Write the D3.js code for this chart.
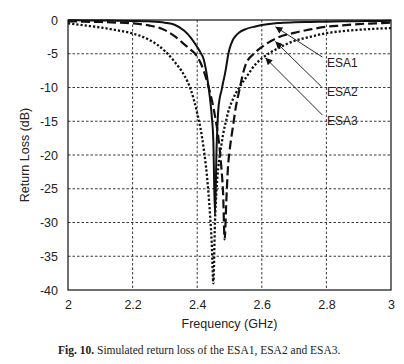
<!DOCTYPE html>
<html><head><meta charset="utf-8">
<script src="https://cdn.jsdelivr.net/npm/d3@7"></script>
<style>
html,body{margin:0;padding:0;background:#fff;}
svg{display:block;}
</style></head>
<body>
<script>
// ---- data ----
const freq = [2.00,2.05,2.10,2.15,2.20,2.25,2.30,2.33,2.36,2.38,2.40,2.41,2.42,2.43,2.44,2.445,2.45,2.455,2.46,2.465,2.47,2.475,2.48,2.485,2.49,2.495,2.50,2.51,2.52,2.53,2.55,2.58,2.60,2.65,2.70,2.75,2.80,2.85,2.90,2.95,3.00];
const esa1 = [-0.05,-0.06,-0.08,-0.1,-0.13,-0.2,-0.4,-0.7,-1.6,-2.6,-4.0,-4.8,-5.8,-8.2,-11.8,-14.2,-18,-29,-19,-13.5,-11.5,-10.5,-9.3,-8.2,-6.9,-5.4,-4.3,-3.0,-2.3,-1.85,-1.35,-0.95,-0.75,-0.45,-0.35,-0.3,-0.25,-0.2,-0.17,-0.14,-0.12];
const esa2 = [-0.2,-0.25,-0.3,-0.38,-0.5,-0.8,-1.5,-2.4,-3.6,-4.4,-5.4,-6.3,-7.5,-9.0,-10.8,-11.8,-12.9,-14.2,-15.6,-17.2,-19.3,-22,-25.5,-32.5,-27,-22,-19.5,-16,-12.8,-10.5,-6.6,-4.8,-4.0,-2.6,-1.9,-1.4,-1.0,-0.8,-0.6,-0.5,-0.4];
const esa3 = [-0.5,-0.8,-1.1,-1.5,-2.0,-2.9,-4.6,-6.2,-8.2,-10.3,-13.8,-16,-19,-23,-29,-33,-39,-30,-25,-22,-20,-18.5,-17,-15.8,-14.8,-13.8,-13,-11.8,-10.8,-10.0,-8.6,-6.6,-5.7,-4.2,-3.1,-2.5,-1.95,-1.65,-1.45,-1.3,-1.2];
const xTicks = [2, 2.2, 2.4, 2.6, 2.8, 3];
const yTicks = [0,-5,-10,-15,-20,-25,-30,-35,-40];
const seriesNames = ["ESA1","ESA2","ESA3"];
// annotation: label anchor (freq,dB) and arrow tip (freq,dB)
const labelAt = [[2.802,-6.9],[2.802,-11.3],[2.802,-15.5]];
const arrowFrom = [[2.788,-5.5],[2.785,-9.9],[2.788,-14.1]];
const arrowTip = [[2.642,-1.0],[2.642,-3.2],[2.611,-5.6]];

// ---- drawing ----
const W=404,H=364;
const m={left:68,right:391,top:20,bottom:290};
const svg=d3.select("body").append("svg").attr("width",W).attr("height",H);
const x=d3.scaleLinear().domain([2,3]).range([m.left,m.right]);
const y=d3.scaleLinear().domain([-40,0]).range([m.bottom,m.top]);
const font="'Liberation Sans', Arial, sans-serif";

svg.append("defs").append("marker").attr("id","ah").attr("viewBox","0 0 10 10")
  .attr("refX",10).attr("refY",5).attr("markerWidth",9).attr("markerHeight",7)
  .attr("markerUnits","userSpaceOnUse").attr("orient","auto")
  .append("path").attr("d","M0,0L10,5L0,10z").attr("fill","#111");

// grid
const grid=svg.append("g");
grid.selectAll("line.v").data(xTicks.slice(1,-1)).join("line")
  .attr("x1",d=>x(d)).attr("x2",d=>x(d)).attr("y1",m.top).attr("y2",m.bottom)
  .attr("stroke","#222").attr("stroke-width",0.9).attr("stroke-dasharray","2.5,2");
grid.selectAll("line.h").data(yTicks.slice(1,-1)).join("line")
  .attr("y1",d=>y(d)).attr("y2",d=>y(d)).attr("x1",m.left).attr("x2",m.right)
  .attr("stroke","#222").attr("stroke-width",0.9).attr("stroke-dasharray","2.5,2");

// axes
const xa=svg.append("g").attr("transform",`translate(0,${m.bottom})`)
  .call(d3.axisBottom(x).tickValues(xTicks).tickSize(0).tickPadding(10).tickFormat(d3.format("")));
const ya=svg.append("g").attr("transform",`translate(${m.left},0)`)
  .call(d3.axisLeft(y).tickValues(yTicks).tickSize(0).tickPadding(10).tickFormat(d=>d===0?"0":String(d)));
[xa,ya].forEach(a=>{a.select(".domain").remove();a.selectAll("text").attr("font-family",font).attr("font-size",12.5).attr("fill","#222");});
svg.append("rect").attr("x",m.left).attr("y",m.top).attr("width",m.right-m.left).attr("height",m.bottom-m.top)
  .attr("fill","none").attr("stroke","#111").attr("stroke-width",1.2);

// curves
const styles=[{dash:null,w:2},{dash:"9,4",w:2.2},{dash:"2.2,2",w:2.3}];
const data=[esa1,esa2,esa3];
const line=d3.line().x((d,i)=>x(freq[i])).y(d=>y(d)).curve(d3.curveMonotoneX);
svg.append("clipPath").attr("id","cp").append("rect")
  .attr("x",m.left).attr("y",m.top-2).attr("width",m.right-m.left).attr("height",m.bottom-m.top+2);
svg.append("g").attr("clip-path","url(#cp)").selectAll("path").data(data).join("path")
  .attr("d",d=>line(d)).attr("fill","none").attr("stroke","#111")
  .attr("stroke-width",(d,i)=>styles[i].w).attr("stroke-dasharray",(d,i)=>styles[i].dash);

// annotations
svg.selectAll("line.arr").data(arrowTip).join("line")
  .attr("x1",(d,i)=>x(arrowFrom[i][0])).attr("y1",(d,i)=>y(arrowFrom[i][1]))
  .attr("x2",d=>x(d[0])).attr("y2",d=>y(d[1]))
  .attr("stroke","#111").attr("stroke-width",0.9).attr("marker-end","url(#ah)");
svg.selectAll("text.lab").data(seriesNames).join("text")
  .attr("x",(d,i)=>x(labelAt[i][0])).attr("y",(d,i)=>y(labelAt[i][1]))
  .attr("font-family",font).attr("font-size",12).attr("fill","#222").text(d=>d);

// titles
svg.append("text").attr("x",(m.left+m.right)/2).attr("y",328).attr("text-anchor","middle")
  .attr("font-family",font).attr("font-size",12.5).attr("fill","#222").text("Frequency (GHz)");
svg.append("text").attr("transform",`translate(29,155) rotate(-90)`).attr("text-anchor","middle")
  .attr("font-family",font).attr("font-size",12.5).attr("fill","#222").text("Return Loss (dB)");
const cap=svg.append("text").attr("x",58).attr("y",354).attr("font-family","'Liberation Serif', 'Times New Roman', serif")
  .attr("font-size",11.5).attr("fill","#222");
cap.append("tspan").attr("font-weight","bold").text("Fig. 10.");
cap.append("tspan").text(" Simulated return loss of the ESA1, ESA2 and ESA3.");
</script>
</body></html>
